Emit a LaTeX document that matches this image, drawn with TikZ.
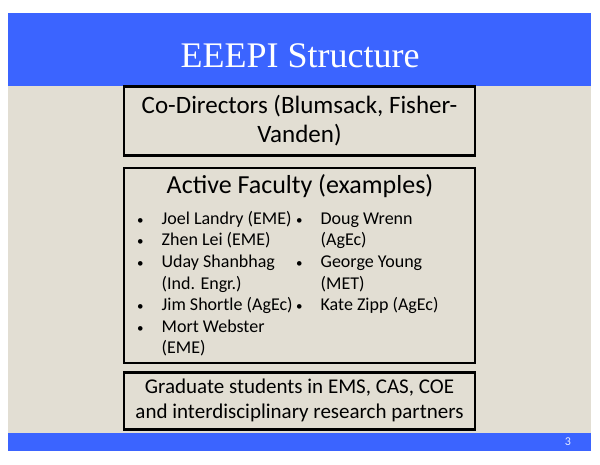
\documentclass[tikz,border=0pt]{standalone}
\usepackage{fontspec}
\setmainfont{Carlito}
\newfontfamily\titlefont{Liberation Serif}
\usetikzlibrary{positioning}
\definecolor{slideblue}{RGB}{59,100,255}
\definecolor{slidebeige}{RGB}{226,222,211}
\newcommand{\smallbullet}{{\fontsize{13}{13}\selectfont\textbullet}}

\begin{document}
\begin{tikzpicture}[
    x=1pt, y=-1pt,
    node distance=10pt,
    orgbox/.style={rectangle, draw=black, line width=2.5pt, fill=slidebeige,
                   minimum width=351pt, text centered, inner sep=0pt},
    column/.style={anchor=north west, inner sep=0pt, align=left,
                   font=\fontsize{18}{21.6}\selectfont}
]
\useasboundingbox (0,0) rectangle (600,464);
\fill[white] (0,0) rectangle (600,464);

% Slide background and bars
\fill[slidebeige] (8,85) rectangle (591,433);
\fill[slideblue] (8,13) rectangle (591,86);
\fill[slideblue] (8,433) rectangle (591,451);

% Title
\node (title) [text=white, font=\titlefont\fontsize{36}{40}\selectfont] at (300,56) {EEEPI Structure};

% Co-Directors
\node (directors) [orgbox, minimum height=69pt, anchor=north,
    font=\fontsize{25}{29}\selectfont, align=center] at (299.5,85)
    {Co-Directors (Blumsack, Fisher-\\Vanden)};

% Active Faculty
\node (faculty) [orgbox, minimum height=195pt, below=10pt of directors] {};
\node (facultyhead) [font=\fontsize{26}{30}\selectfont] at (300,186) {Active Faculty (examples)};
\node (leftcol) [column] at (137,209) {%
  \begin{tabular}{@{}l@{\hspace{18pt}}l@{}}
  \smallbullet & Joel Landry (EME)\\
  \smallbullet & Zhen Lei (EME)\\
  \smallbullet & Uday Shanbhag\\
               & (Ind. Engr.)\\
  \smallbullet & Jim Shortle (AgEc)\\
  \smallbullet & Mort Webster\\
               & (EME)
  \end{tabular}};
\node (rightcol) [column] at (296,209) {%
  \begin{tabular}{@{}l@{\hspace{18pt}}l@{}}
  \smallbullet & Doug Wrenn\\
               & (AgEc)\\
  \smallbullet & George Young\\
               & (MET)\\
  \smallbullet & Kate Zipp (AgEc)
  \end{tabular}};

% Graduate students
\node (students) [orgbox, minimum height=57pt, below=7pt of faculty,
    font=\fontsize{21}{25}\selectfont, align=center]
    {Graduate students in EMS, CAS, COE\\and interdisciplinary research partners};

% Page number
\node (pagenum) [text=white!90!slideblue, font=\fontsize{12}{14}\selectfont] at (568,442) {3};

\end{tikzpicture}
\end{document}
